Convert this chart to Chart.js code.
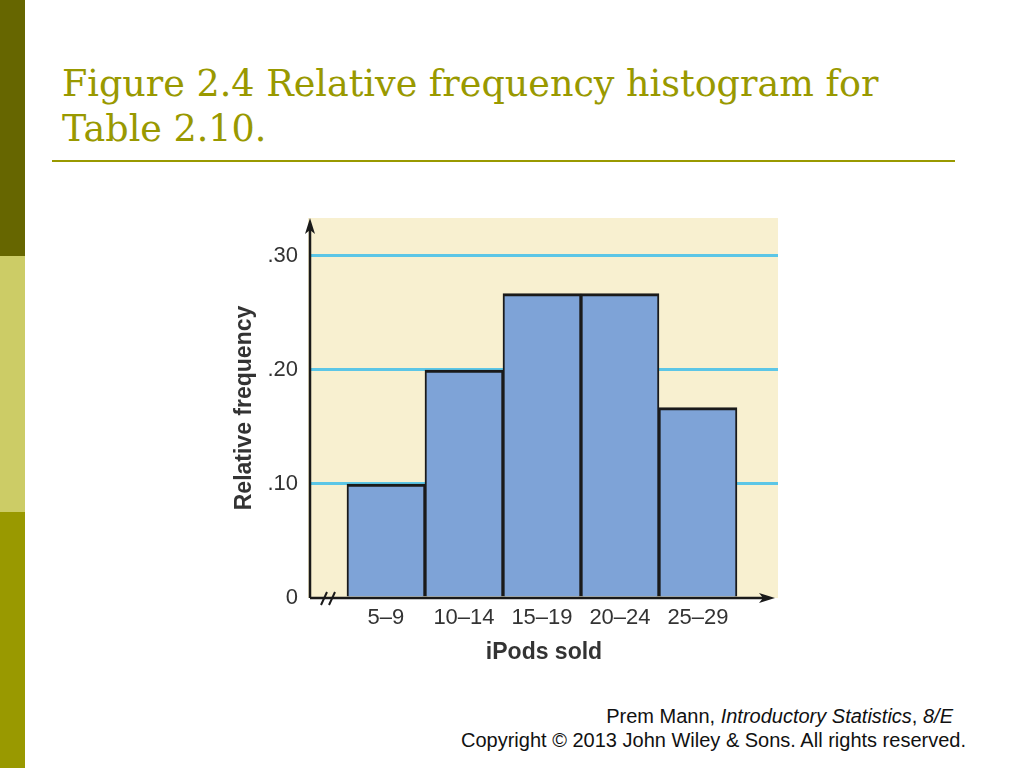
<!DOCTYPE html>
<html>
<head>
<meta charset="utf-8">
<script src="https://cdn.jsdelivr.net/npm/chart.js@4.4.1/dist/chart.umd.min.js"></script>
<style>
  html, body { margin: 0; padding: 0; background: #fff; }
  body { width: 1024px; height: 768px; position: relative; overflow: hidden; }
  .stripe { position: absolute; left: 0; width: 25px; }
  .s1 { top: 0; height: 256px; background: #666600; }
  .s2 { top: 256px; height: 256px; background: #cccc66; }
  .s3 { top: 512px; height: 256px; background: #999900; }
  h1 {
    position: absolute; left: 62px; top: 61px; margin: 0;
    font-family: "DejaVu Serif", serif; font-weight: normal;
    font-size: 36.5px; line-height: 45px; color: #999900;
  }
  .rule { position: absolute; left: 52px; top: 160px; width: 903px; height: 2px; background: #999900; }
  #wrap { position: absolute; left: 220px; top: 200px; width: 580px; height: 480px; }
  .foot {
    position: absolute; right: 58px; top: 704px; text-align: right;
    font-family: "Liberation Sans", Arial, sans-serif; font-size: 20px; line-height: 24px; color: #111;
  }
</style>
</head>
<body>
<div class="stripe s1"></div>
<div class="stripe s2"></div>
<div class="stripe s3"></div>
<h1>Figure 2.4 Relative frequency histogram for<br>Table 2.10.</h1>
<div class="rule"></div>
<div id="wrap"><canvas id="hist" width="580" height="480"></canvas></div>
<div class="foot">
  <div style="margin-right:13px">Prem Mann, <i>Introductory Statistics</i>, <i>8/E</i></div>
  <div>Copyright © 2013 John Wiley &amp; Sons. All rights reserved.</div>
</div>
<script>
// classes of iPods sold and their relative frequencies
const categories = ['5–9', '10–14', '15–19', '20–24', '25–29']
const classMids = [7, 12, 17, 22, 27]
const relFreq = [0.10, 0.20, 0.267, 0.267, 0.167]
const yTicks = [0, 0.10, 0.20, 0.30]
const yTickLabels = ['0', '.10', '.20', '.30']

const tickFont = { family: 'Liberation Sans', size: 22 }
const titleFont = { family: 'Liberation Sans', size: 23, weight: 'bold' }

// cream panel, axes with arrow heads and the // break mark
const axesDecor = {
    id: 'axesDecor',
    beforeDraw(chart) {
        const { ctx, chartArea: a } = chart
        ctx.save()
        ctx.fillStyle = '#f8f0d0'
        ctx.fillRect(a.left - 2, a.top, a.right - a.left + 2, a.bottom - a.top)
        ctx.restore()
    },
    afterDatasetsDraw(chart) {
        const { ctx, chartArea: a } = chart
        ctx.save()
        ctx.strokeStyle = '#1a1a1a'
        ctx.fillStyle = '#1a1a1a'
        ctx.lineWidth = 2.5
        ctx.beginPath()
        ctx.moveTo(a.left, a.bottom)
        ctx.lineTo(a.left, a.top + 8)
        ctx.moveTo(a.left, a.bottom)
        ctx.lineTo(a.right - 10, a.bottom)
        ctx.stroke()
        // arrow heads
        ctx.beginPath()
        ctx.moveTo(a.left, a.top)
        ctx.lineTo(a.left - 5, a.top + 16)
        ctx.lineTo(a.left, a.top + 12)
        ctx.lineTo(a.left + 5, a.top + 16)
        ctx.closePath()
        ctx.fill()
        ctx.beginPath()
        ctx.moveTo(a.right - 3, a.bottom)
        ctx.lineTo(a.right - 19, a.bottom - 5)
        ctx.lineTo(a.right - 15, a.bottom)
        ctx.lineTo(a.right - 19, a.bottom + 5)
        ctx.closePath()
        ctx.fill()
        // break mark
        ctx.lineWidth = 2
        ctx.beginPath()
        ctx.moveTo(a.left + 11, a.bottom + 7)
        ctx.lineTo(a.left + 17, a.bottom - 6)
        ctx.moveTo(a.left + 19, a.bottom + 7)
        ctx.lineTo(a.left + 25, a.bottom - 6)
        ctx.stroke()
        ctx.restore()
    }
}

new Chart(document.getElementById('hist'), {
    type: 'bar',
    data: {
        datasets: [{
            data: classMids.map((x, i) => ({ x: x, y: relFreq[i] })),
            backgroundColor: '#7ea3d7',
            borderColor: '#1a1a1a',
            borderWidth: { top: 3, left: 2, right: 2, bottom: 0 },
            borderSkipped: false,
            barPercentage: 1,
            categoryPercentage: 1
        }]
    },
    options: {
        responsive: false,
        animation: false,
        layout: { padding: { left: 11, top: 18, right: 22, bottom: 14 } },
        plugins: { legend: { display: false }, tooltip: { enabled: false } },
        scales: {
            x: {
                type: 'linear',
                offset: false,
                min: 2.13,
                max: 32.13,
                afterFit(scale) {
                    scale.height = 68
                    scale.paddingLeft = 0
                    scale.paddingRight = 0
                },
                afterBuildTicks(scale) { scale.ticks = classMids.map(v => ({ value: v })) },
                ticks: {
                    padding: 7,
                    color: '#333',
                    font: tickFont,
                    maxRotation: 0,
                    autoSkip: false,
                    callback: (v, i) => categories[i]
                },
                grid: { display: false, drawTicks: false },
                border: { display: false },
                title: { display: true, text: 'iPods sold', color: '#333', font: titleFont, padding: 0 }
            },
            y: {
                min: 0,
                max: 0.3333,
                afterFit(scale) {
                    scale.width = 79
                    scale.paddingTop = 0
                    scale.paddingBottom = 0
                },
                afterBuildTicks(scale) { scale.ticks = yTicks.map(v => ({ value: v })) },
                ticks: {
                    padding: 12,
                    color: '#333',
                    font: tickFont,
                    callback: (v, i) => yTickLabels[i]
                },
                grid: {
                    drawTicks: false,
                    lineWidth: 3,
                    color: c => (c.tick && c.tick.value === 0) ? 'rgba(0,0,0,0)' : '#5cc6e6'
                },
                border: { display: false },
                title: { display: true, text: 'Relative frequency', color: '#333', font: titleFont, padding: 0 }
            }
        }
    },
    plugins: [axesDecor]
})
</script>
</body>
</html>
